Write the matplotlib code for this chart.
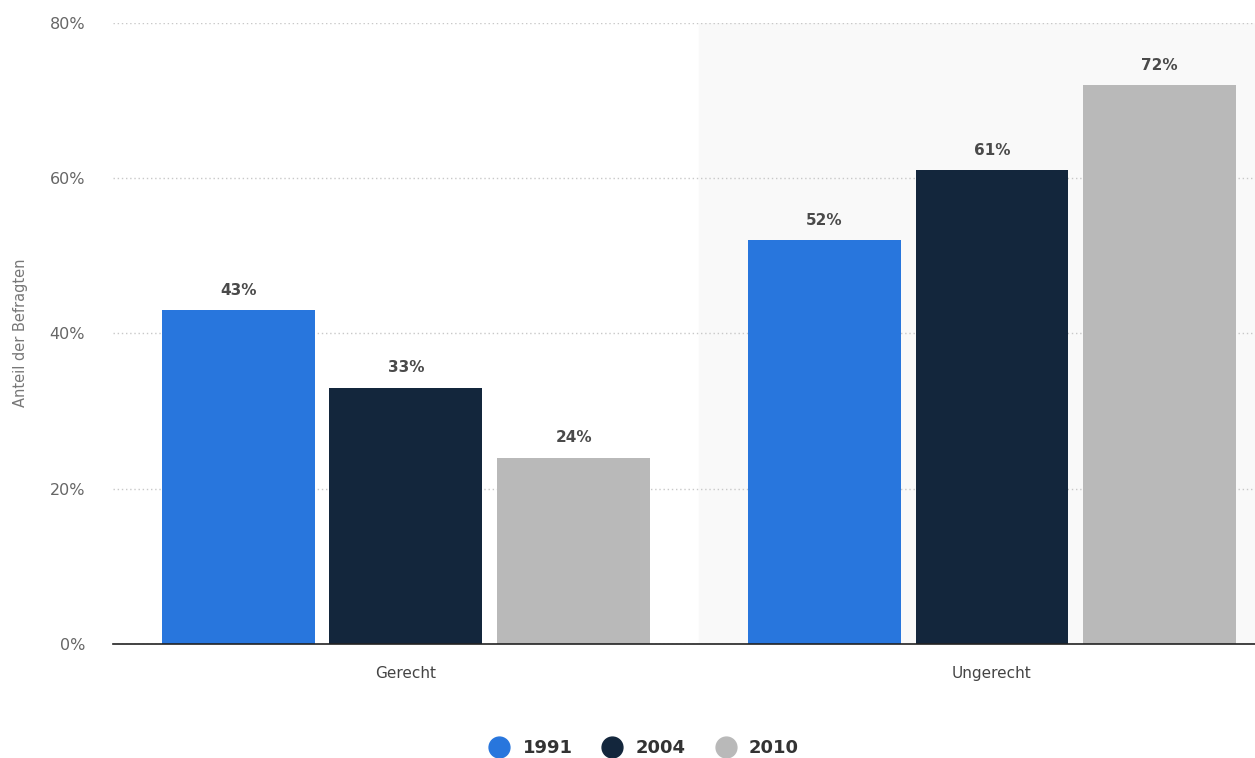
import matplotlib.pyplot as plt
import numpy as np

categories = ["Gerecht", "Ungerecht"]
years = ["1991", "2004", "2010"]
values_1991 = [43, 52]
values_2004 = [33, 61]
values_2010 = [24, 72]
colors = ["#2876dd", "#13263c", "#b9b9b9"]

series = [values_1991, values_2004, values_2010]

fig = plt.figure(figsize=(12.55, 7.58), dpi=100)
ax = fig.add_axes([0.090, 0.1504, 0.9339, 0.8193])

x = np.arange(len(categories))
width = 0.261
offsets = [-0.286, 0, 0.286]

# shaded background behind the second category
ax.axvspan(0.5, 1.5, color="#f9f9f9", zorder=0)

for vals, off, color, year in zip(series, offsets, colors, years):
    bars = ax.bar(x + off, vals, width, color=color, label=year, zorder=3)
    for b, v in zip(bars, vals):
        ax.text(b.get_x() + b.get_width() / 2, v + 1.6, f"{v}%",
                ha="center", va="bottom", fontsize=11, fontweight="bold",
                color="#4a4a4a", zorder=4)

ax.set_xlim(-0.5, 1.5)
ax.set_ylim(0, 80)
ax.set_yticks([0, 20, 40, 60, 80])
ax.set_yticklabels([f"{t}%" for t in [0, 20, 40, 60, 80]])
ax.set_xticks(x)
ax.set_xticklabels(categories)

ax.grid(axis="y", linestyle=(0, (1, 2)), color="#c8c8c8", linewidth=1, zorder=1)
ax.set_axisbelow(True)
for side in ["top", "right", "left"]:
    ax.spines[side].set_visible(False)
ax.spines["bottom"].set_color("#222222")
ax.spines["bottom"].set_linewidth(1.2)
ax.spines["bottom"].set_zorder(5)

ax.tick_params(axis="y", length=0, pad=20, labelsize=11.5, labelcolor="#666666")
ax.tick_params(axis="x", length=0, pad=16, labelsize=11, labelcolor="#444444")

fig.text(0.016, 0.561, "Anteil der Befragten", rotation=90, ha="center",
         va="center", fontsize=10.5, color="#777777")

handles = [plt.Line2D([], [], marker="o", linestyle="", markersize=15,
                      color=c) for c in colors]
fig.legend(handles, years, loc="center", bbox_to_anchor=(0.51, 0.013),
           ncol=3, frameon=False, handletextpad=0.3, columnspacing=1.2,
           prop={"size": 13, "weight": "bold"}, labelcolor="#333333")

fig.savefig("out.png", dpi=100)
